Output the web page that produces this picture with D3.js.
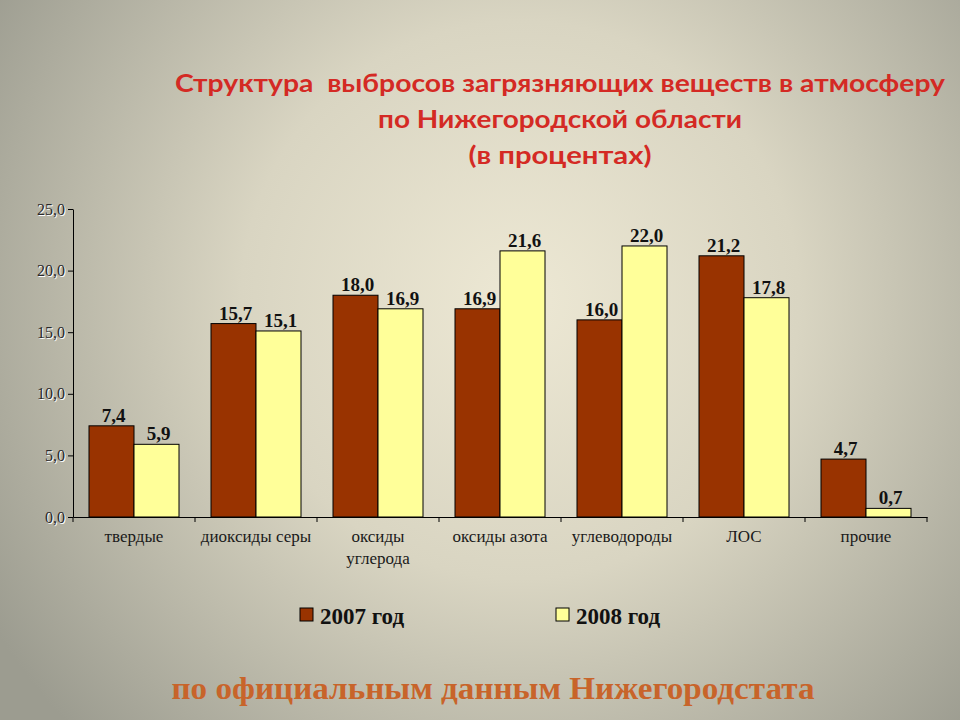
<!DOCTYPE html>
<html><head><meta charset="utf-8">
<script src="https://cdn.jsdelivr.net/npm/d3@7"></script>
<style>body{margin:0;}svg{display:block;}</style>
</head><body>
<script>
const categories = [["твердые"],["диоксиды серы"],["оксиды","углерода"],["оксиды азота"],["углеводороды"],["ЛОС"],["прочие"]];
const catKeys = categories.map(c=>c.join(" "));
const series2007 = [7.4,15.7,18.0,16.9,16.0,21.2,4.7];
const series2008 = [5.9,15.1,16.9,21.6,22.0,17.8,0.7];
const seriesNames = ["2007 год","2008 год"];
const seriesColors = ["#993300","#ffff99"];
const yTicks = [0,5,10,15,20,25];
const titleLines = ["Структура  выбросов загрязняющих веществ в атмосферу","по Нижегородской области","(в процентах)"];
const footer = "по официальным данным Нижегородстата";

const W=960,H=720;
const svg=d3.select("body").append("svg").attr("width",W).attr("height",H);
const defs=svg.append("defs");
const rg=defs.append("radialGradient").attr("id","bg").attr("gradientUnits","userSpaceOnUse")
  .attr("cx",520).attr("cy",300).attr("r",620);
rg.append("stop").attr("offset","0%").attr("stop-color","#ede8d4");
rg.append("stop").attr("offset","45%").attr("stop-color","#d9d5c2");
rg.append("stop").attr("offset","100%").attr("stop-color","#9c9c90");
svg.append("rect").attr("width",W).attr("height",H).attr("fill","url(#bg)");

// title
const titleWidths=[770,364,183];
const tt=svg.append("g");
titleLines.forEach((t,i)=>{
  tt.append("text").attr("x",560).attr("y",92+i*36).attr("text-anchor","middle")
    .attr("font-family","Lato, Liberation Sans, Arial, sans-serif").attr("font-weight","bold")
    .attr("font-size",25).attr("fill","#d42a24").attr("xml:space","preserve")
    .attr("textLength",titleWidths[i]).attr("lengthAdjust","spacingAndGlyphs").text(t);
});

const x0=73,x1=927,yB=517,yT=209;
const x=d3.scaleBand().domain(catKeys).range([x0,x1]).padding(0);
const xs=d3.scaleBand().domain(seriesNames).range([16,x.bandwidth()-16]).padding(0);
const y=d3.scaleLinear().domain([0,25]).range([yB,yT]);

const serif="Liberation Serif, Times New Roman, serif";
// y axis
const ya=svg.append("g").attr("transform",`translate(${x0},0)`)
  .call(d3.axisLeft(y).tickValues(yTicks).tickSize(5).tickSizeOuter(0)
    .tickFormat(d=>d3.format(".1f")(d).replace(".",",")));
ya.select(".domain").attr("stroke","#000");
ya.selectAll(".tick line").attr("stroke","#000");
ya.selectAll("text").attr("font-family",serif).attr("font-size",16).attr("fill","#2a2a2a").attr("x",-8)
  .attr("style","text-shadow:1px 1px 0 #fff");

// bars
const data=catKeys.map((k,i)=>({k,vals:[series2007[i],series2008[i]]}));
const g=svg.append("g");
data.forEach(d=>{
  d.vals.forEach((v,j)=>{
    const bx=x(d.k)+xs(seriesNames[j]);
    g.append("rect").attr("x",bx).attr("y",y(v)).attr("width",xs.bandwidth()).attr("height",y(0)-y(v))
      .attr("fill",seriesColors[j]).attr("stroke","#000").attr("stroke-width",1);
  });
});
data.forEach(d=>{
  d.vals.forEach((v,j)=>{
    const bx=x(d.k)+xs(seriesNames[j]);
    g.append("text").attr("x",bx+xs.bandwidth()/2+2).attr("y",y(v)-4).attr("text-anchor","middle")
      .attr("font-family",serif).attr("font-weight","bold").attr("font-size",19).attr("fill","#111")
      .text(d3.format(".1f")(v).replace(".",","));
  });
});

// x axis
const xa=svg.append("g").attr("transform",`translate(0,${yB})`)
  .call(d3.axisBottom(x).tickSize(0).tickFormat(""));
xa.select(".domain").attr("stroke","#000");
const tickPos=catKeys.map(k=>x(k)).concat([x1]);
tickPos.forEach(p=>xa.append("line").attr("x1",p).attr("x2",p).attr("y1",0).attr("y2",5).attr("stroke","#000"));
categories.forEach((c,i)=>{
  const t=svg.append("text").attr("text-anchor","middle").attr("font-family",serif).attr("font-size",17).attr("fill","#1a1a1a");
  c.forEach((line,li)=>t.append("tspan").attr("x",x(catKeys[i])+x.bandwidth()/2).attr("y",542+li*22).text(line));
});

// legend
const lg=svg.append("g");
[[300,320],[556,576]].forEach((p,i)=>{
  lg.append("rect").attr("x",p[0]).attr("y",608).attr("width",13).attr("height",13)
    .attr("fill",seriesColors[i]).attr("stroke","#000");
  lg.append("text").attr("x",p[1]).attr("y",624).attr("font-family",serif).attr("font-weight","bold")
    .attr("font-size",23).attr("fill","#111").text(seriesNames[i]);
});

svg.append("text").attr("x",493).attr("y",699).attr("text-anchor","middle").attr("font-family",serif)
  .attr("font-weight","bold").attr("font-size",31).attr("fill","#c8642a")
  .attr("textLength",643).attr("lengthAdjust","spacingAndGlyphs").text(footer);
</script>
</body></html>
